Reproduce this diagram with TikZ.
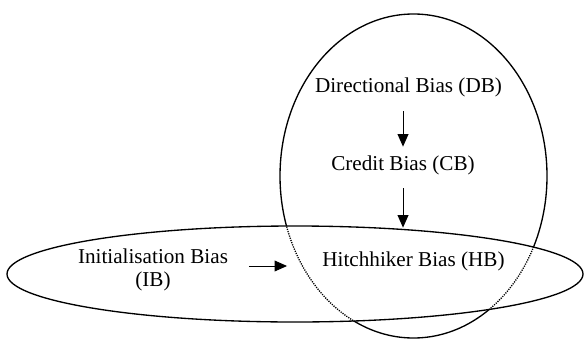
\documentclass[tikz,border=0pt]{standalone}
\usepackage{fontspec}
\setmainfont{Liberation Serif}
\usetikzlibrary{arrows.meta}

\tikzset{
    label/.style={inner sep=4pt, font=\fontsize{12.7pt}{13.8pt}\selectfont},
    arr/.style={-{Triangle[length=7.5pt,width=6.5pt]}, line width=0.6pt},
    ring/.style={line width=0.8pt}
}

\begin{document}
\begin{tikzpicture}[x=0.6pt, y=-0.6pt]
        % 1. Frame of the picture (pixel coordinates, y downwards)
        \useasboundingbox (0,0) rectangle (584,339);

        % 2. The two sets
        \draw[ring] (295,274) ellipse [x radius=288, y radius=48];
        \begin{scope}[even odd rule]
            \clip (-10,-10) rectangle (600,350) (295,274) ellipse [x radius=288, y radius=48];
            \draw[ring] (413.5,176) ellipse [x radius=133.5, y radius=162];
        \end{scope}
        \begin{scope}
            \clip (295,274) ellipse [x radius=288, y radius=48];
            \draw[line width=0.8pt, dash pattern=on 0.7pt off 0.7pt] (413.5,176) ellipse [x radius=133.5, y radius=162];
        \end{scope}

        % 3. The biases
        \node[label, anchor=base] (DB) at (408.5,93) {Directional Bias (DB)};
        \node[label, anchor=base] (CB) at (403,170) {Credit Bias (CB)};
        \node[label, anchor=base] (HB) at (413.5,266) {Hitchhiker Bias (HB)};
        \node[label, align=center] (IB) at (153,270) {Initialisation Bias\\(IB)};

        % 4. How one bias leads to the next
        \draw[arr, shorten <=4pt, shorten >=1pt] (DB.south -| CB.north) -- (CB.north);
        \draw[arr, shorten <=4pt, shorten >=10pt] (CB.south) -- (CB.south |- HB.north);
        \draw[arr, shorten <=8.4pt, shorten >=17pt] (IB.east |- HB.base) -- (HB.base west);

    \end{tikzpicture}
\end{document}
